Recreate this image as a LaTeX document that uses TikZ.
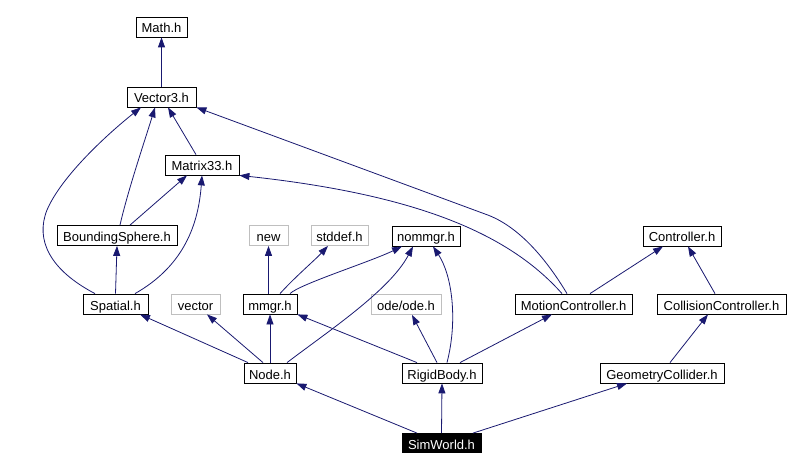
\documentclass[tikz,border=0pt]{standalone}
\usepackage{fontspec}
\setmainfont{Liberation Sans}
\usetikzlibrary{arrows.meta}

\definecolor{edgeblue}{HTML}{191970}
\definecolor{sysgray}{HTML}{BFBFBF}

\tikzset{
	file/.style = {draw, line width = 0.8pt, inner sep = 0pt, minimum height = 20pt,
		text height = 12pt, text depth = 0pt},
	sysfile/.style = {file, draw = sysgray},
	mainfile/.style = {file, fill = black, text = white},
	dep/.style = {->, draw = edgeblue, line width = 0.8pt}
}

\begin{document}
\begin{tikzpicture}[x = 1pt, y = -1pt, > = {Triangle[length = 10pt, width = 7pt]},
	font = \fontsize{13}{15}\selectfont]

	\useasboundingbox (0, 0) rectangle (789, 470);

	% Math headers

	\node [file, minimum width = 51pt] (math) at (161.5, 27) {Math.h};
	\node [file, minimum width = 69pt] (vector3) at (161.5, 97) {Vector3.h};
	\node [file, minimum width = 74pt] (matrix) at (202, 165) {Matrix33.h};
	\node [file, minimum width = 120pt] (bsphere) at (117, 235.5) {BoundingSphere.h};
	\node [file, minimum width = 65pt] (spatial) at (115.5, 304) {Spatial.h};

	% Memory manager and system headers

	\node [sysfile, minimum width = 39pt] (new) at (268.5, 235.5) {new};
	\node [sysfile, minimum width = 57pt] (stddef) at (339.5, 235.5) {stddef.h};
	\node [file, minimum width = 68pt] (nommgr) at (426, 236) {nommgr.h};
	\node [sysfile, minimum width = 49pt] (vec) at (195.5, 304) {vector};
	\node [file, minimum width = 54pt] (mmgr) at (270, 304) {mmgr.h};
	\node [sysfile, minimum width = 70pt] (ode) at (406, 304.5) {ode/ode.h};

	% Controllers

	\node [file, minimum width = 78pt] (controller) at (682, 236) {Controller.h};
	\node [file, minimum width = 117pt] (motion) at (573.5, 304) {MotionController.h};
	\node [file, minimum width = 129pt] (collision) at (721.5, 304) {CollisionController.h};

	% Bottom rows

	\node [file, minimum width = 52pt] (node) at (270, 373) {Node.h};
	\node [file, minimum width = 80pt] (rigid) at (442, 373) {RigidBody.h};
	\node [file, minimum width = 124pt] (geom) at (662, 373) {GeometryCollider.h};
	\node [mainfile, minimum width = 79pt, minimum height = 19pt] (sim) at (441.5, 443) {SimWorld.h};

	% Includes of the math headers

	\draw [dep] (vector3.north) -- (math.south);
	\draw [dep] ([xshift = -6pt] matrix.north) -- ([xshift = 6.5pt] vector3.south);
	\draw [dep] ([xshift = 3pt] bsphere.north) .. controls (128, 190) and (145, 140) .. ([xshift = -6.5pt] vector3.south);
	\draw [dep] ([xshift = 13pt] bsphere.north) -- ([xshift = -15pt] matrix.south);
	\draw [dep] ([xshift = -20.5pt] spatial.north) .. controls (50, 270) and (35, 240) .. (47, 210)
		.. controls (62, 175) and (110, 132) .. ([xshift = -20.5pt] vector3.south);
	\draw [dep] (spatial.north) -- (bsphere.south);
	\draw [dep] ([xshift = 19.5pt] spatial.north) .. controls (180, 268) and (198, 230) .. (matrix.south);

	% Includes of the controllers

	\draw [dep] ([xshift = -6.5pt] motion.north) .. controls (548, 262) and (520, 226) .. (485, 214) -- (vector3.south east);
	\draw [dep] ([xshift = -11.5pt] motion.north) .. controls (510, 235) and (420, 195) .. (matrix.south east);
	\draw [dep] ([xshift = 16.5pt] motion.north) -- ([xshift = -19pt] controller.south);
	\draw [dep] ([xshift = -6.5pt] collision.north) -- ([xshift = 6pt] controller.south);
	\draw [dep] ([xshift = 8pt] geom.north) -- ([xshift = -13.5pt] collision.south);

	% Includes of mmgr.h

	\draw [dep] ([xshift = -1.5pt] mmgr.north) -- (new.south);
	\draw [dep] ([xshift = 10pt] mmgr.north) .. controls (295, 277) and (315, 260) .. ([xshift = -11.5pt] stddef.south);
	\draw [dep] ([xshift = 20pt] mmgr.north) .. controls (300, 284) and (370, 262) .. ([xshift = -24pt] nommgr.south);

	% Includes of Node.h and RigidBody.h

	\draw [dep] ([xshift = 17pt] node.north) .. controls (330, 330) and (390, 290) .. ([xshift = -13pt] nommgr.south);
	\draw [dep] (node.north) -- (mmgr.south);
	\draw [dep] ([xshift = -7pt] node.north) -- ([xshift = 11.5pt] vec.south);
	\draw [dep] ([xshift = -22pt] node.north) -- ([xshift = 24.5pt] spatial.south);
	\draw [dep] ([xshift = -25pt] rigid.north) -- (mmgr.south east);
	\draw [dep] ([xshift = 5pt] rigid.north) .. controls (458, 320) and (452, 275) .. ([xshift = 7pt] nommgr.south);
	\draw [dep] ([xshift = -5pt] rigid.north) -- ([xshift = 6pt] ode.south);
	\draw [dep] ([xshift = 18pt] rigid.north) -- ([xshift = -21.5pt] motion.south);

	% Includes of SimWorld.h

	\draw [dep] ([xshift = -24.5pt] sim.north) -- (node.south east);
	\draw [dep] (sim.north) -- (rigid.south);
	\draw [dep] ([xshift = 31.5pt] sim.north) -- ([xshift = -35pt] geom.south);

\end{tikzpicture}
\end{document}
